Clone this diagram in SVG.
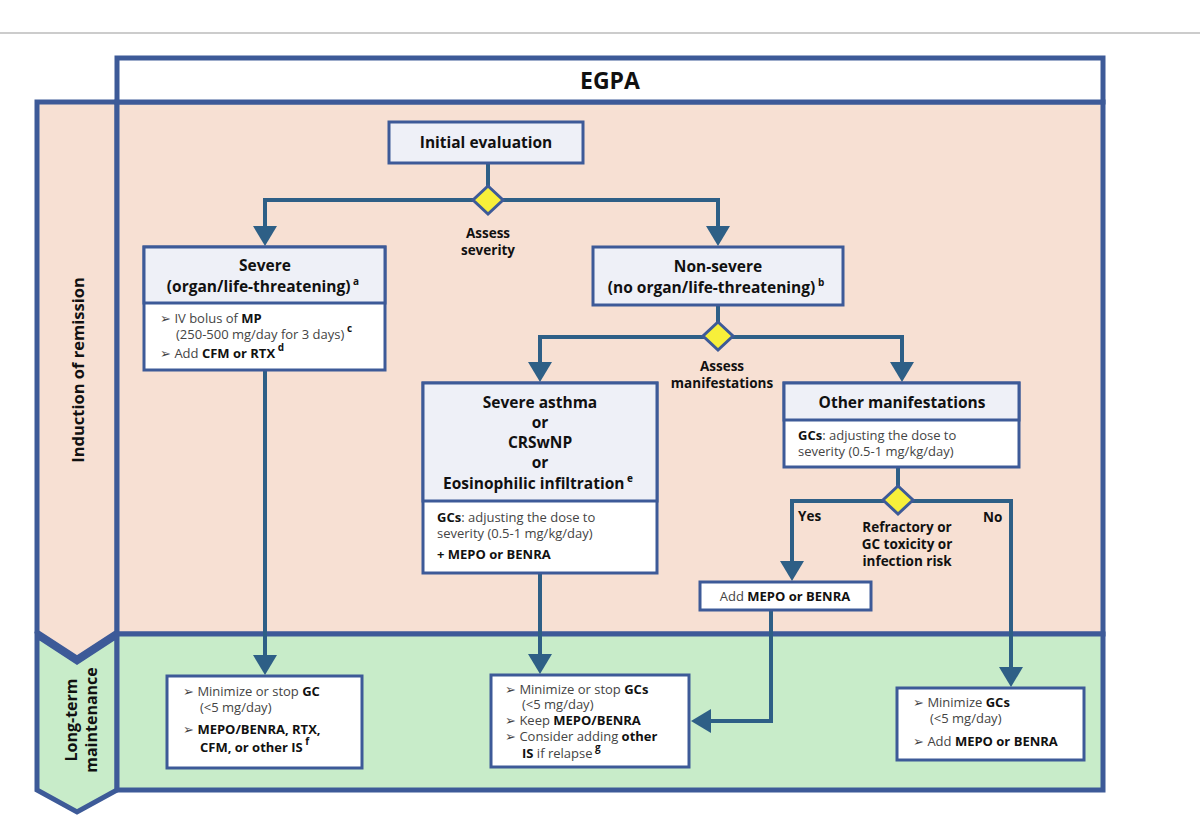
<svg xmlns="http://www.w3.org/2000/svg" width="1200" height="829" viewBox="0 0 1200 829">
<style>
text{font-family:"Open Sans","Liberation Sans",sans-serif;fill:#111}
.frame{stroke:#3d5a98;stroke-width:5}
.box{stroke:#3d5a98;stroke-width:3;fill:#fff}
.hd{stroke:#3d5a98;stroke-width:3;fill:#eef0f7}
.b{font-weight:bold}
.h{font-weight:bold;font-size:15.5px;text-anchor:middle}
.s{font-weight:bold;font-size:13.5px;text-anchor:middle}
.t{font-size:13px;fill:#444}
.t tspan.b{fill:#111}
.sup{font-size:10px;font-weight:bold;baseline-shift:super;fill:#111}
.c{fill:none;stroke:#2e5f86;stroke-width:4}
.dia{fill:#f7ef3a;stroke:#3d5a98;stroke-width:3}
</style>
<defs><marker id="ar" markerWidth="6" markerHeight="6" refX="4" refY="3" orient="auto" markerUnits="strokeWidth"><path d="M0,0L5,3L0,6Z" fill="#2e5f86"/></marker></defs>
<rect width="1200" height="829" fill="#fff"/>
<line x1="0" y1="33" x2="1200" y2="33" stroke="#ccc" stroke-width="2"/>
<g id="bands">
<path class="frame" d="M37,102H117V632L77,658L37,632Z" fill="#f7e0d3"/>
<path class="frame" d="M37,636L77,662L117,636V790L77,812L37,790Z" fill="#c8ecc9"/>
<rect class="frame" x="117" y="102" width="986" height="532" fill="#f7e0d3"/>
<rect class="frame" x="117" y="634" width="986" height="156" fill="#c8ecc9"/>
<rect class="frame" x="117" y="58" width="986" height="44" fill="#fff"/>
<text x="610" y="89" class="h" style="font-size:23px">EGPA</text>
<text class="h" style="font-size:16.5px" transform="translate(84,370) rotate(-90)">Induction of remission</text>
<text class="h" style="font-size:16px" transform="translate(77,720) rotate(-90)">Long-term</text>
<text class="h" style="font-size:16px" transform="translate(97,720) rotate(-90)">maintenance</text>
</g>
<g id="connectors">
<path class="c" d="M488,163V200"/>
<path class="c" d="M488,200H265V242" marker-end="url(#ar)"/>
<path class="c" d="M488,200H718V242" marker-end="url(#ar)"/>
<path class="c" d="M718,305V337"/>
<path class="c" d="M718,337H540V378" marker-end="url(#ar)"/>
<path class="c" d="M718,337H902V378" marker-end="url(#ar)"/>
<path class="c" d="M898,467V500"/>
<path class="c" d="M898,501H792V577" marker-end="url(#ar)"/>
<path class="c" d="M898,501H1011V683" marker-end="url(#ar)"/>
<path class="c" d="M771,610V721H695" marker-end="url(#ar)"/>
<path class="c" d="M265,370V671" marker-end="url(#ar)"/>
<path class="c" d="M540,573V670" marker-end="url(#ar)"/>
</g>
<g id="d1"><path class="dia" d="M488,186L503,200L488,214L473,200Z"/>
<text class="s" x="488" y="238">Assess</text><text class="s" x="488" y="255">severity</text></g>
<g id="d2"><path class="dia" d="M718,322L733,336L718,350L703,336Z"/>
<text class="s" x="722" y="371">Assess</text><text class="s" x="722" y="388">manifestations</text></g>
<g id="d3"><path class="dia" d="M898,486L913,500L898,514L883,500Z"/>
<text class="s" x="907" y="532">Refractory or</text><text class="s" x="907" y="549">GC toxicity or</text><text class="s" x="907" y="566">infection risk</text>
<text class="b" style="font-size:13.5px" x="798" y="521">Yes</text><text class="b" style="font-size:13.5px" x="983" y="522">No</text></g>
<g id="initial"><rect class="hd" x="389" y="122" width="194" height="41"/><text class="h" x="486" y="148">Initial evaluation</text></g>
<g id="severe"><rect class="box" x="144" y="247" width="241" height="123"/><rect class="hd" x="144" y="247" width="241" height="56"/>
<text class="h" x="265" y="271">Severe</text><text class="h" x="263" y="292">(organ/life-threatening)<tspan class="sup"> a</tspan></text>
<text class="t" x="160" y="323">➢  IV bolus of <tspan class="b">MP</tspan></text>
<text class="t" x="176" y="339">(250-500 mg/day for 3 days)<tspan class="sup"> c</tspan></text>
<text class="t" x="160" y="358">➢  Add <tspan class="b">CFM or RTX</tspan><tspan class="sup"> d</tspan></text></g>
<g id="nonsevere"><rect class="hd" x="593" y="247" width="250" height="58"/>
<text class="h" x="718" y="272">Non-severe</text><text class="h" x="716" y="293">(no organ/life-threatening)<tspan class="sup"> b</tspan></text></g>
<g id="asthma"><rect class="box" x="423" y="383" width="234" height="190"/><rect class="hd" x="423" y="383" width="234" height="118"/>
<text class="h" x="540" y="408">Severe asthma</text><text class="h" x="540" y="428">or</text><text class="h" x="540" y="448">CRSwNP</text><text class="h" x="540" y="468">or</text>
<text class="h" x="538" y="489">Eosinophilic infiltration<tspan class="sup"> e</tspan></text>
<text class="t" x="437" y="522"><tspan class="b">GCs</tspan>: adjusting the dose to</text>
<text class="t" x="437" y="538">severity (0.5-1 mg/kg/day)</text>
<text class="t b" x="437" y="559" style="fill:#111">+ MEPO or BENRA</text></g>
<g id="other"><rect class="box" x="784" y="383" width="235" height="84"/><rect class="hd" x="784" y="383" width="235" height="37"/>
<text class="h" x="902" y="408">Other manifestations</text>
<text class="t" x="798" y="440"><tspan class="b">GCs</tspan>: adjusting the dose to</text>
<text class="t" x="798" y="456">severity (0.5-1 mg/kg/day)</text></g>
<g id="addmepo"><rect class="box" x="700" y="582" width="171" height="28"/>
<text class="t" x="785" y="601" text-anchor="middle">Add <tspan class="b">MEPO or BENRA</tspan></text></g>
<g id="lt1"><rect class="box" x="167" y="676" width="195" height="92"/>
<text class="t" x="183" y="696">➢  Minimize or stop <tspan class="b">GC</tspan></text>
<text class="t" x="200" y="712">(&lt;5 mg/day)</text>
<text class="t" x="183" y="734">➢  <tspan class="b">MEPO/BENRA, RTX,</tspan></text>
<text class="t b" x="200" y="752" style="fill:#111">CFM, or other IS<tspan class="sup"> f</tspan></text></g>
<g id="lt2"><rect class="box" x="491" y="675" width="198" height="92"/>
<text class="t" x="505" y="694">➢  Minimize or stop <tspan class="b">GCs</tspan></text>
<text class="t" x="522" y="709">(&lt;5 mg/day)</text>
<text class="t" x="505" y="725">➢  Keep <tspan class="b">MEPO/BENRA</tspan></text>
<text class="t" x="505" y="741">➢  Consider adding <tspan class="b">other</tspan></text>
<text class="t" x="522" y="758"><tspan class="b">IS</tspan> if relapse<tspan class="sup"> g</tspan></text></g>
<g id="lt3"><rect class="box" x="897" y="688" width="187" height="72"/>
<text class="t" x="913" y="707">➢  Minimize <tspan class="b">GCs</tspan></text>
<text class="t" x="930" y="723">(&lt;5 mg/day)</text>
<text class="t" x="913" y="746">➢  Add <tspan class="b">MEPO or BENRA</tspan></text></g>
</svg>
